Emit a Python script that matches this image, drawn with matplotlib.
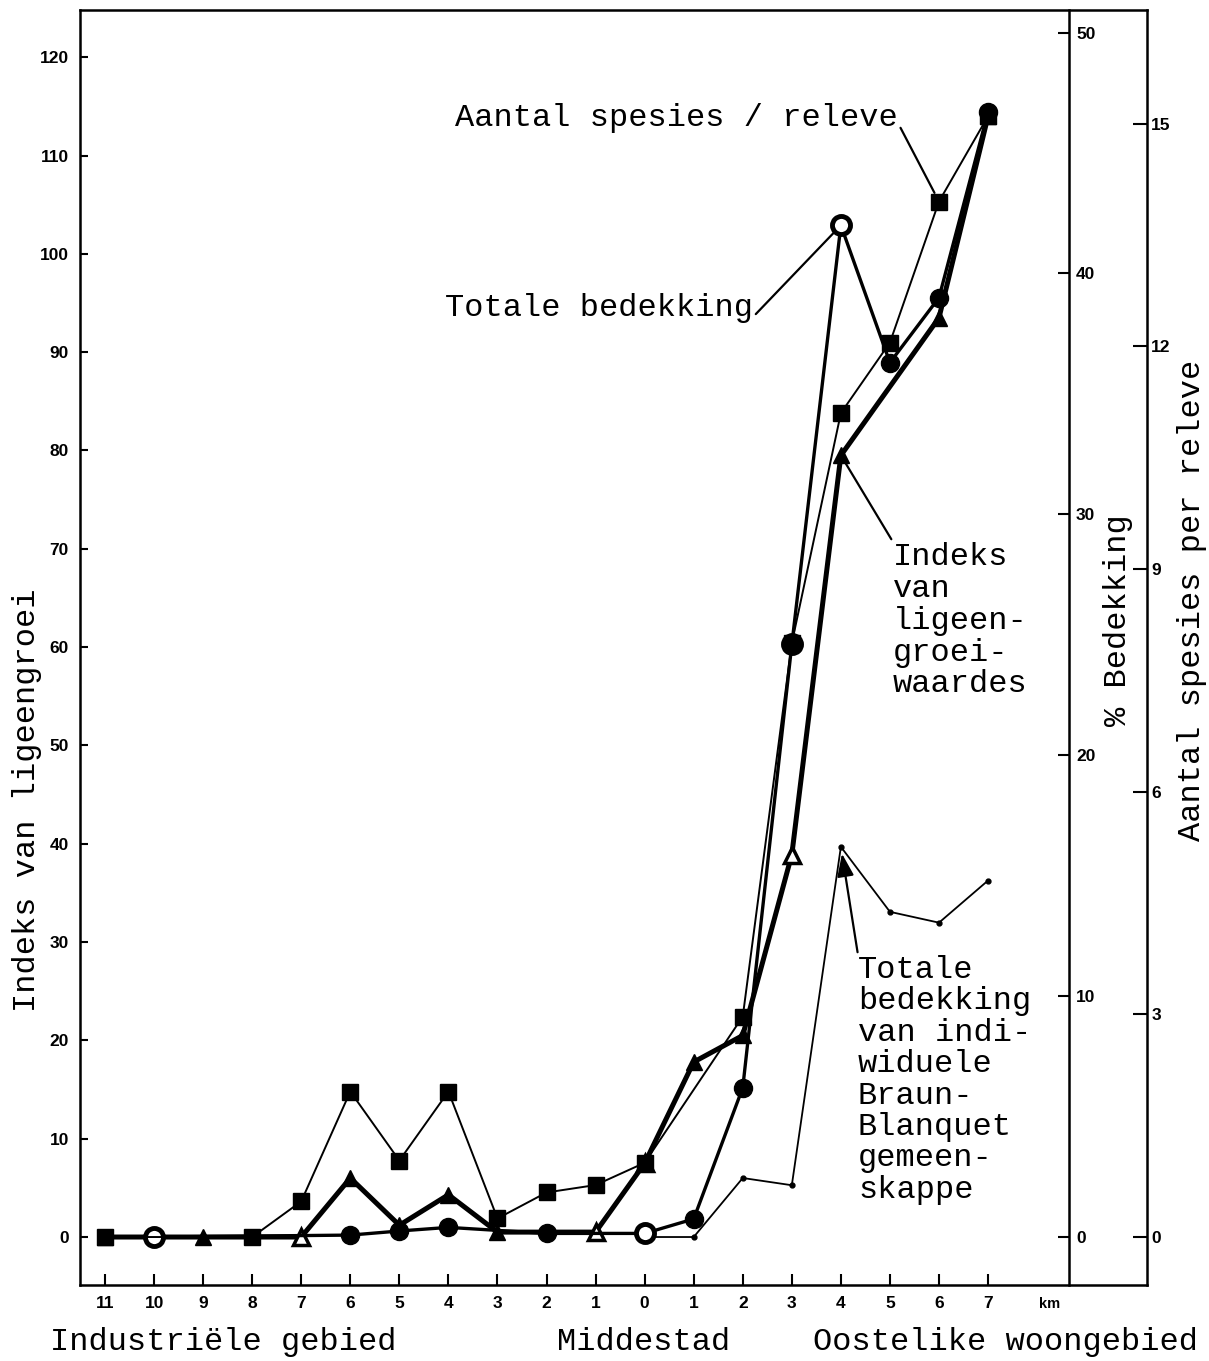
import matplotlib
matplotlib.use("Agg")
import matplotlib.pyplot as plt
import numpy as np

# ---------------- data ----------------
km_labels = ["11", "10", "9", "8", "7", "6", "5", "4", "3", "2", "1",
             "0", "1", "2", "3", "4", "5", "6", "7"]

# Aantal spesies / releve  (right-most axis, squares)
species = [0, None, None, 0, 0.48, 1.96, 1.03, 1.96, 0.25, 0.6, 0.7,
           1.0, None, 2.97, 8.0, 11.1, 12.05, 13.95, 15.1]

# Totale bedekking (% Bedekking axis, circles)
cover = [None, 0, None, None, None, 0.08, 0.25, 0.4, None, 0.15, None,
         0.15, 0.75, 6.2, 24.6, 42.0, 36.3, 39.0, 46.7]

# Indeks van ligeengroei-waardes (left axis, triangles)
index_vals = [0, None, 0, None, 0, 6.0, 1.2, 4.3, 0.5, None, 0.5,
              7.5, 17.8, 20.5, 38.9, 79.5, None, 93.5, 114.0]

# Totale bedekking van individuele Braun-Blanquet gemeenskappe (% axis)
bb_cover = [None, None, None, None, None, None, None, None, None, None, None,
            0, 0, 2.45, 2.15, 16.2, 13.5, 13.05, 14.8]

left_ticks = [0, 10, 20, 30, 40, 50, 60, 70, 80, 90, 100, 110, 120]
pct_ticks = [0, 10, 20, 30, 40, 50]
spec_ticks = [0, 3, 6, 9, 12, 15]

# ---------------- style ----------------
MONO = ["Liberation Mono", "DejaVu Sans Mono"]
TICKF = ["Liberation Sans", "DejaVu Sans"]
FS = 23
TFS = 12.5

W, H = 1209, 1361
fig = plt.figure(figsize=(W / 100, H / 100), dpi=100)
fig.patch.set_facecolor("white")

x0, x1, ytop, ybot = 80, 1147, 10, 1285
ax = fig.add_axes([x0 / W, 1 - ybot / H, (x1 - x0) / W, (ybot - ytop) / H])
ylo, yhi = -4.88, 124.8
ax.set_ylim(ylo, yhi)
ax.set_xlim(-0.51, 21.24)

ax2 = ax.twinx()
ax2.set_ylim(ylo / 2.45, yhi / 2.45)
ax3 = ax.twinx()
ax3.set_ylim(ylo / 7.55, yhi / 7.55)

for a in (ax, ax2, ax3):
    a.patch.set_visible(False)
    for s in a.spines.values():
        s.set_linewidth(1.8)

ax.spines["right"].set_visible(False)
for a in (ax2, ax3):
    a.spines["left"].set_visible(False)
    a.spines["top"].set_visible(False)
    a.spines["bottom"].set_visible(False)
ax2.spines["right"].set_position(("axes", 0.927))

ax.set_yticks(left_ticks)
ax.set_yticklabels([str(t) for t in left_ticks], fontfamily=TICKF, fontweight="bold")
ax.tick_params(axis="y", direction="in", length=6, width=1.5, pad=8, labelsize=TFS)
ax.set_xticks(range(len(km_labels)))
ax.set_xticklabels(km_labels, fontfamily=TICKF, fontweight="bold")
ax.tick_params(axis="x", direction="in", length=8, width=1.5, pad=8, labelsize=TFS)
ax.tick_params(top=False, right=False)

ax2.set_yticks(pct_ticks)
ax2.set_yticklabels([str(t) for t in pct_ticks], fontfamily=TICKF, fontweight="bold")
ax2.tick_params(axis="y", direction="in", length=8, width=1.5, pad=5, labelsize=TFS)
ax3.set_yticks(spec_ticks)
ax3.set_yticklabels([str(t) for t in spec_ticks], fontfamily=TICKF, fontweight="bold")
ax3.tick_params(axis="y", direction="in", length=10, width=1.5, pad=3, labelsize=TFS)


def series(vals):
    xs = [i for i, v in enumerate(vals) if v is not None]
    ys = [v for v in vals if v is not None]
    return np.array(xs), np.array(ys, dtype=float)


def draw(axis, vals, marker, ms, lw, hollow=(), z=3, mew=2.5):
    xs, ys = series(vals)
    axis.plot(xs, ys, color="black", lw=lw, marker=marker, ms=ms,
              mfc="black", mec="black", zorder=z, solid_joinstyle="miter")
    hx = [i for i in hollow if vals[i] is not None]
    hy = [vals[i] for i in hx]
    if hx:
        axis.plot(hx, hy, ls="none", marker=marker, ms=ms, mfc="white",
                  mec="black", mew=mew, zorder=z + 0.1)


# index (triangles)
draw(ax, index_vals, "^", 12, 3.6, hollow=(4, 10, 11, 14), z=3)
# cover (circles)
draw(ax2, cover, "o", 13, 2.4, hollow=(1, 11, 14, 15), z=3, mew=3.5)
# Braun-Blanquet (small dots)
draw(ax2, bb_cover, "o", 3.5, 1.3, z=2)
# species (squares)
draw(ax3, species, "s", 11, 1.4, z=4)

# ---------------- annotations ----------------
def fig_xy(px, py):
    return (px / W, 1 - py / H)

line_kw = dict(arrowstyle="-", color="black", lw=1.6, shrinkA=0, shrinkB=7)

ax3.annotate("Aantal spesies / releve", xy=(17, species[17]), xycoords="data",
             xytext=fig_xy(455, 118), textcoords="figure fraction",
             fontsize=FS, fontfamily=MONO, ha="left", va="center",
             arrowprops=dict(relpos=(1.0, 0.35), **line_kw))

ax2.annotate("Totale bedekking", xy=(15, cover[15]), xycoords="data",
             xytext=fig_xy(445, 308), textcoords="figure fraction",
             fontsize=FS, fontfamily=MONO, ha="left", va="center",
             arrowprops=dict(relpos=(1.0, 0.2), **line_kw))

ax.annotate("Indeks\nvan\nligeen-\ngroei-\nwaardes", xy=(15, index_vals[15]),
            xycoords="data", xytext=fig_xy(893, 542),
            textcoords="figure fraction", fontsize=FS, fontfamily=MONO,
            ha="left", va="top", linespacing=1.08,
            arrowprops=dict(relpos=(0.0, 1.0), **line_kw))

ax2.annotate("Totale\nbedekking\nvan indi-\nwiduele\nBraun-\nBlanquet\ngemeen-\nskappe",
             xy=(15, bb_cover[15]), xycoords="data",
             xytext=fig_xy(858, 955), textcoords="figure fraction",
             fontsize=FS, fontfamily=MONO, ha="left", va="top", linespacing=1.06,
             arrowprops=dict(arrowstyle="-|>,head_length=0.6,head_width=0.22",
                             color="black", lw=1.6, shrinkA=0, shrinkB=5,
                             relpos=(0.0, 1.0)))

ax.annotate("km", xy=(19.26, 0), xycoords=("data", "axes fraction"),
            xytext=(0, -9), textcoords="offset points", ha="center", va="top",
            fontsize=10.5, fontfamily=TICKF, fontweight="bold")

# ---------------- axis titles ----------------
fig.text(27 / W, 1 - 800 / H, "Indeks van ligeengroei", rotation=90,
         fontsize=FS, fontfamily=MONO, ha="center", va="center")
fig.text(1118 / W, 1 - 620 / H, "% Bedekking", rotation=90,
         fontsize=FS, fontfamily=MONO, ha="center", va="center")
fig.text(1192 / W, 1 - 600 / H, "Aantal spesies per releve", rotation=90,
         fontsize=FS, fontfamily=MONO, ha="center", va="center")

fig.text(50 / W, 1 - 1342 / H, "Industriële gebied", fontsize=FS,
         fontfamily=MONO, ha="left", va="center")
fig.text(557 / W, 1 - 1342 / H, "Middestad", fontsize=FS,
         fontfamily=MONO, ha="left", va="center")
fig.text(1198 / W, 1 - 1342 / H, "Oostelike woongebied", fontsize=FS,
         fontfamily=MONO, ha="right", va="center")

fig.savefig("out.png", dpi=100)
